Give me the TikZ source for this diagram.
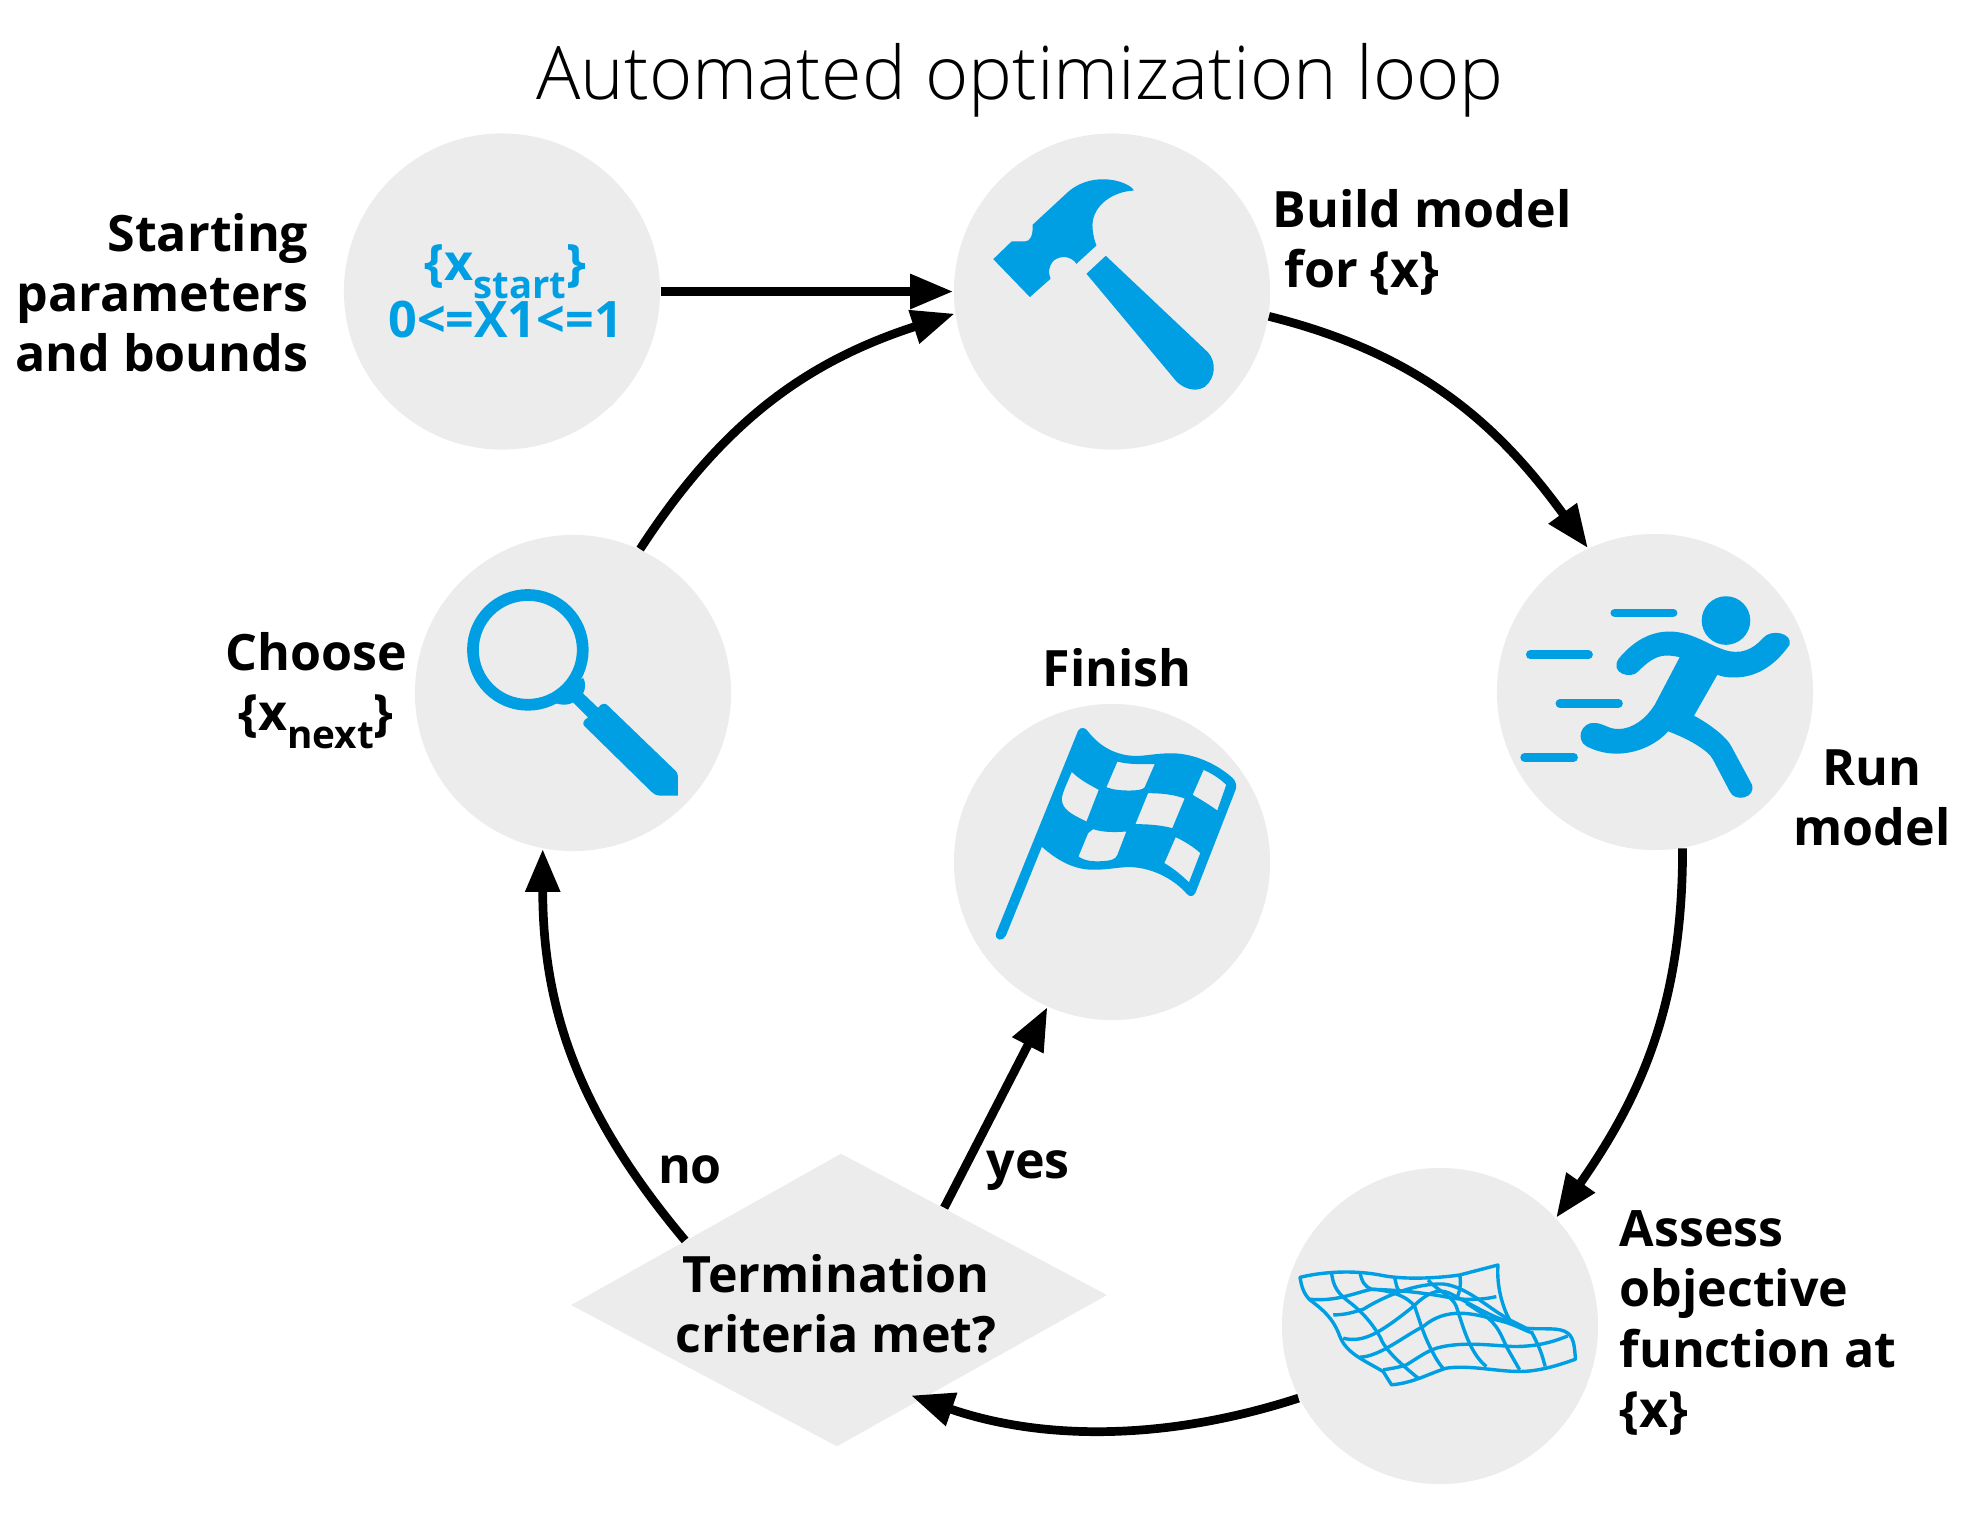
\documentclass[tikz,border=0pt]{standalone}
\usepackage{fontspec}
\setmainfont{Open Sans}
\newfontfamily\titlefont{Open Sans Light}
\usetikzlibrary{arrows.meta,shapes.geometric}
\definecolor{discgrey}{HTML}{ECECEC}
\definecolor{iconblue}{HTML}{009FE3}
\newcommand{\lowtext}[2]{\raisebox{-0.36em}{\fontsize{#1}{#1}\selectfont #2}}
\tikzset{
  disc/.style={circle,fill=discgrey,minimum size=3.16cm,inner sep=0pt},
  caption/.style={font=\fontsize{14.25}{17.1}\selectfont\bfseries,inner sep=0pt},
  flow/.style={line width=0.087cm,-{Triangle[length=0.43cm,width=0.33cm]}},
  icon/.style={shift={#1},x=0.0033333cm,y=-0.0033333cm,fill=iconblue,draw=none},
  meshline/.style={draw=iconblue,line width=0.034cm,line join=round},
  speedline/.style={draw=iconblue,line width=0.087cm,line cap=round}
}
\begin{document}
\begin{tikzpicture}[x=0.01cm,y=-0.01cm]
  \useasboundingbox (0,0) rectangle (1976,1536);
  \node[inner sep=0pt,font=\fontsize{21}{26}\titlefont] (title) at (1020,80) {Automated optimization loop};
  \node[disc,font=\fontsize{14.3}{16.2}\selectfont\bfseries,text=iconblue,align=center] (start) at (502,291.5)
    {\hspace*{2pt}\{x\lowtext{10.9}{start}\}\\\hspace*{2pt}0<=X1<=1};
  \node[disc] (build) at (1112,291.5) {};
  \node[disc] (run) at (1655,692) {};
  \node[disc] (assess) at (1440,1326) {};
  \node[disc] (choose) at (573,693) {};
  \node[disc] (finish) at (1112,862) {};
  \node[diamond,fill=discgrey,draw=none,minimum width=5.36cm,minimum height=2.93cm,inner sep=0pt,
    xslant=0.0137,yslant=0.0187,transform shape] (criteria) at (839,1300) {};

  \node[caption,anchor=east,align=right] (startlabel) at (309,293) {Starting\\parameters\\and bounds};
  \node[caption,anchor=west,align=left] (buildlabel) at (1272,242) {Build model\\\hspace{3.4pt}for \{x\}};
  \node[caption,align=center] (runlabel) at (1872,798) {Run\\model};
  \node[caption,anchor=west,align=left] (assesslabel) at (1619,1323) {Assess\\objective\\function at\\\{x\}};
  \node[caption,align=center] (criterialabel) at (836,1304) {Termination\\criteria met?};
  \node[caption] (finishlabel) at (1117,668) {Finish};
  \node[caption,align=center] (chooselabel) at (316,691) {Choose\\\{x\lowtext{11}{next}\}};
  \node[caption] (nolabel) at (690,1170) {no};
  \node[caption] (yeslabel) at (1028,1171) {yes};

  \begin{scope}[flow]
    \draw (start) to (build);
    \draw (choose.65.6) to[out=57,in=198] (build.188.5);
    \draw (build.-9) to[out=-14,in=126] (run.115);
    \draw (run.-80.7) to[out=-90,in=55] (assess.43);
    \draw[shorten >=-0.12cm] (assess.207.7) to[out=198,in=-19,looseness=0.9] (criteria.-50.7);
    \draw (criteria.158.6) to[out=130,in=-90] (choose.259.6);
    \draw (criteria.41.7) to (finish.246.7);
  \end{scope}

  \begin{scope}[icon={(950,130)}]
    \fill (130,388) -- (185,335) -- (225,335) .. controls (242,335) and (250,315) .. (248,285)
      -- (345,195) .. controls (385,155) and (430,148) .. (460,148) .. controls (510,148) and (550,170) .. (552,182)
      .. controls (490,185) and (430,225) .. (428,285) .. controls (428,310) and (435,335) .. (440,347)
      -- (380,402) .. controls (365,380) and (335,375) .. (312,392) .. controls (295,410) and (295,430) .. (302,447)
      -- (240,502) -- cycle;
    \fill (468,378) -- (775,668) .. controls (800,695) and (800,745) .. (765,772)
      .. controls (735,790) and (700,775) .. (680,755) -- (410,432) -- cycle;
  \end{scope}

  \begin{scope}[icon={(1500,530)}]
    \fill (679,272) circle [radius=73];
    \draw[speedline] (345,249) -- (520,249) (91,375) -- (266,375) (180,521) -- (356,521) (74,683) -- (221,683);
    \fill (358,385) .. controls (400,335) and (450,305) .. (510,305) .. controls (570,305) and (620,340) .. (660,355)
      .. controls (700,372) and (745,375) .. (790,325) .. controls (815,295) and (880,310) .. (870,345)
      .. controls (835,395) and (780,445) .. (700,443) .. controls (680,443) and (665,440) .. (653,435)
      -- (583,558) .. controls (625,580) and (680,620) .. (695,650) -- (757,765)
      .. controls (770,805) and (705,820) .. (690,785) -- (640,690) .. controls (625,660) and (560,625) .. (505,605)
      .. controls (470,645) and (410,672) .. (350,672) .. controls (310,672) and (280,660) .. (260,650)
      .. controls (225,630) and (245,575) .. (285,580) .. controls (310,580) and (325,598) .. (355,598)
      .. controls (400,598) and (440,565) .. (465,525) -- (540,382) .. controls (520,378) and (505,376) .. (490,378)
      .. controls (465,382) and (445,395) .. (415,425) .. controls (395,450) and (325,430) .. (358,385) -- cycle;
  \end{scope}

  \begin{scope}[icon={(950,700)}]
    \fill[even odd rule] (385,92) .. controls (392,80) and (408,82) .. (415,95) .. controls (450,140) and (500,168) .. (560,168)
      .. controls (590,168) and (620,160) .. (665,160) .. controls (730,160) and (800,190) .. (850,235)
      .. controls (860,245) and (862,260) .. (858,270) -- (738,578) .. controls (732,592) and (720,592) .. (712,583)
      .. controls (670,535) and (600,500) .. (530,502) .. controls (490,505) and (470,510) .. (430,510)
      .. controls (370,510) and (320,480) .. (276,441) -- (168,708) .. controls (160,725) and (135,725) .. (138,702) -- cycle
      (366,216) .. controls (390,240) and (420,255) .. (447,270) -- (410,365) .. controls (380,350) and (345,335) .. (338,310)
      .. controls (332,295) and (340,280) .. (345,265) -- cycle
      (503,185) .. controls (540,195) and (580,192) .. (615,193) -- (585,262) .. controls (580,270) and (560,272) .. (540,272)
      .. controls (515,272) and (490,270) .. (470,262) -- cycle
      (595,280) .. controls (630,280) and (670,283) .. (705,296) -- (668,385) .. controls (630,375) and (590,373) .. (557,373) -- cycle
      (762,210) .. controls (785,220) and (810,235) .. (830,255) -- (803,332) .. controls (780,315) and (755,300) .. (729,285) -- cycle
      (430,388) .. controls (460,398) and (495,398) .. (530,395) -- (503,465) .. controls (498,480) and (480,483) .. (460,484)
      .. controls (430,486) and (405,484) .. (386,470) -- (415,400) -- cycle
      (678,412) .. controls (705,425) and (730,440) .. (752,460) -- (718,548) .. controls (695,525) and (670,505) .. (644,490) -- cycle;
  \end{scope}

  \begin{scope}[icon={(1280,1250)}]
    \draw[meshline] (60,82) .. controls (130,65) and (220,60) .. (300,75) .. controls (370,90) and (470,85) .. (540,75)
      -- (655,45) .. controls (650,110) and (670,175) .. (690,210) -- (740,235) .. controls (790,240) and (840,230) .. (865,250)
      .. controls (885,265) and (885,300) .. (888,328) .. controls (840,345) and (780,365) .. (720,365)
      .. controls (650,365) and (570,345) .. (500,355) .. controls (450,370) and (400,400) .. (335,405) -- (310,365)
      .. controls (250,330) and (200,310) .. (180,260) .. controls (160,205) and (130,180) .. (90,150)
      .. controls (70,130) and (65,110) .. (60,82) -- cycle;
    \draw[meshline] (865,258) .. controls (800,285) and (750,290) .. (700,290) .. controls (620,285) and (540,275) .. (470,295)
      .. controls (440,305) and (420,320) .. (380,345) .. controls (360,352) and (340,355) .. (310,360);
    \draw[meshline] (160,195) .. controls (200,195) and (225,185) .. (250,178) .. controls (320,135) and (410,100) .. (490,102)
      .. controls (560,110) and (620,170) .. (690,210);
    \draw[meshline] (90,148) .. controls (170,155) and (220,130) .. (275,118) .. controls (340,120) and (420,125) .. (520,145)
      .. controls (560,150) and (610,150) .. (650,140);
    \draw[meshline] (190,265) .. controls (250,280) and (300,250) .. (400,170) .. controls (430,140) and (470,110) .. (510,130)
      .. controls (570,160) and (640,205) .. (690,215);
    \draw[meshline] (240,322) .. controls (300,320) and (370,260) .. (430,230) .. controls (500,170) and (580,190) .. (650,210)
      .. controls (700,220) and (730,240) .. (760,250);
    \draw[meshline] (155,70) .. controls (160,110) and (175,130) .. (200,150) .. controls (240,180) and (270,210) .. (300,260)
      .. controls (315,300) and (360,340) .. (415,385);
    \draw[meshline] (240,65) .. controls (245,95) and (255,110) .. (275,118) .. controls (330,120) and (385,140) .. (405,170)
      .. controls (415,200) and (430,250) .. (450,290) .. controls (460,310) and (475,340) .. (490,355);
    \draw[meshline] (345,85) .. controls (350,105) and (350,115) .. (360,125);
    \draw[meshline] (445,90) .. controls (470,120) and (520,140) .. (530,170) .. controls (550,230) and (570,310) .. (620,350);
    \draw[meshline] (540,75) .. controls (545,100) and (540,130) .. (530,145);
    \draw[meshline] (560,160) .. controls (640,210) and (650,220) .. (680,290) -- (720,360);
    \draw[meshline] (755,245) .. controls (790,310) and (790,330) .. (797,350);
  \end{scope}

  \begin{scope}[icon={(440,572)}]
    \draw[draw=iconblue,line width=0.117cm] (264,234) circle [radius=165];
    \fill (340,392) .. controls (370,402) and (385,400) .. (400,392) -- (445,437)
      .. controls (430,445) and (428,455) .. (433,462) -- (635,660) .. controls (645,668) and (650,672) .. (660,672)
      -- (715,672) -- (715,620) .. controls (715,605) and (712,600) .. (700,590) -- (505,402)
      .. controls (498,393) and (485,393) .. (475,408) -- (430,365) .. controls (438,350) and (438,330) .. (430,318) -- cycle;
  \end{scope}
\end{tikzpicture}
\end{document}
